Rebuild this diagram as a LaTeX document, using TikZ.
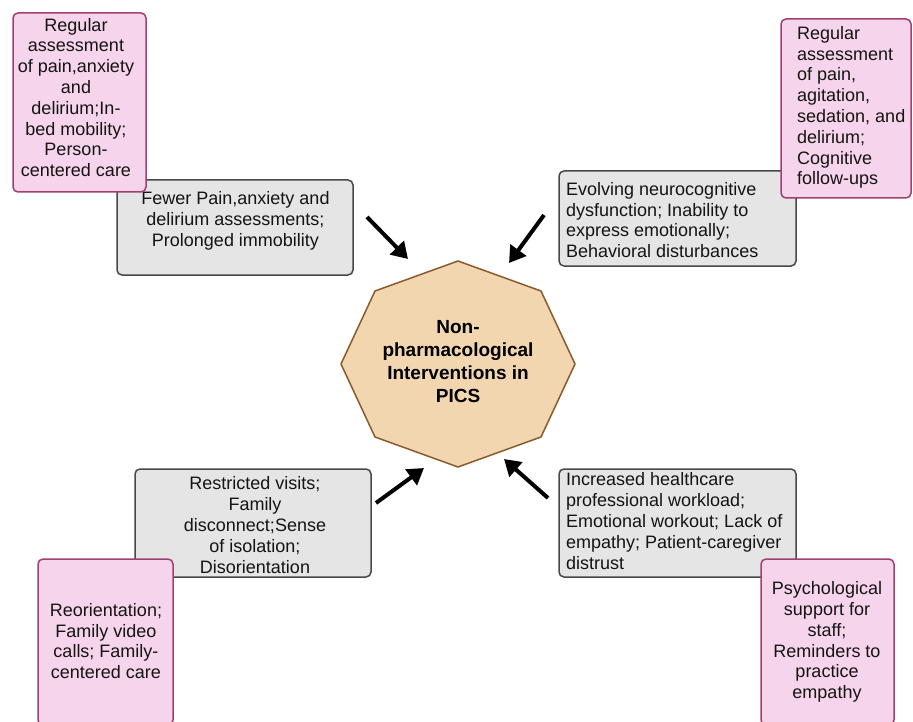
\documentclass[tikz,border=0pt]{standalone}
\usepackage{fontspec}
\setmainfont{Liberation Sans}
\usetikzlibrary{arrows.meta}
\definecolor{pinkfill}{RGB}{246,213,236}
\definecolor{pinkdraw}{RGB}{160,64,112}
\definecolor{grayfill}{RGB}{229,229,229}
\definecolor{graydraw}{RGB}{72,72,72}
\definecolor{tanfill}{RGB}{241,214,176}
\definecolor{browndraw}{RGB}{139,90,43}
\begin{document}
\begin{tikzpicture}[x=1pt,y=-1pt,
  graybox/.style={draw=graydraw,fill=grayfill,line width=1.5pt,rounded corners=5pt,inner sep=0pt},
  pinkbox/.style={draw=pinkdraw,fill=pinkfill,line width=1.5pt,rounded corners=5pt,inner sep=0pt},
  txt/.style={inner sep=0pt,font=\fontsize{18}{20.8}\selectfont,text=black!92},
  ctxt/.style={txt,align=center},
  ltxt/.style={txt,align=left,anchor=west},
  arr/.style={line width=4pt,-{Triangle[length=16pt,width=19pt]}}]
\useasboundingbox (0,0) rectangle (913,722);
% octagon
\draw[fill=tanfill,draw=browndraw,line width=1.5pt]
  (458,261) -- (541,291) -- (575,364) -- (541,437) -- (458,467) -- (375,437) -- (341,364) -- (375,291) -- cycle;
\node (center) [inner sep=0pt,align=center,font=\fontsize{19}{23}\selectfont\bfseries] at (458,361.5)
  {Non-\\pharmacological\\Interventions in\\PICS};
% gray boxes
\node (g1) [graybox,minimum width=236pt,minimum height=95pt] at (235,227.5) {};
\node (g1t) [ctxt] at (235.5,221) {Fewer Pain,anxiety and\\delirium assessments;\\Prolonged immobility};
\node (g2) [graybox,minimum width=237pt,minimum height=95pt] at (677.5,218.5) {};
\node (g2t) [ltxt] at (566,220) {Evolving neurocognitive\\dysfunction; Inability to\\express emotionally;\\Behavioral disturbances};
\node (g3) [graybox,minimum width=236pt,minimum height=108pt] at (253,523) {};
\node (g3t) [ctxt] at (255,525) {Restricted visits;\\Family\\disconnect;Sense\\of isolation;\\Disorientation};
\node (g4) [graybox,minimum width=237pt,minimum height=108pt] at (677.5,523) {};
\node (g4t) [ltxt] at (566,521) {Increased healthcare\\professional workload;\\Emotional workout; Lack of\\empathy; Patient-caregiver\\distrust};
% pink boxes
\node (p1) [pinkbox,minimum width=133pt,minimum height=179pt] at (79.5,102.5) {};
\node (p1t) [ctxt] at (76,97.5) {Regular\\assessment\\of pain,anxiety\\and\\delirium;In-\\bed mobility;\\Person-\\centered care};
\node (p2) [pinkbox,minimum width=130pt,minimum height=179pt] at (846,108.5) {};
\node (p2t) [ltxt] at (797,107.5) {Regular\\assessment\\of pain,\\agitation,\\sedation, and\\delirium;\\Cognitive\\follow-ups};
\node (p3) [pinkbox,minimum width=135pt,minimum height=166pt] at (105.5,642) {};
\node (p3t) [ctxt] at (106,641) {Reorientation;\\Family video\\calls; Family-\\centered care};
\node (p4) [pinkbox,minimum width=133pt,minimum height=166pt] at (827.5,642) {};
\node (p4t) [ctxt] at (827,642) {Psychological\\support for\\staff;\\Reminders to\\practice\\empathy};
% arrows
\coordinate (a1s) at (367,217); \coordinate (a1e) at (408,259);
\coordinate (a2s) at (544,215); \coordinate (a2e) at (509,263);
\coordinate (a3s) at (376,503); \coordinate (a3e) at (424,468);
\coordinate (a4s) at (548,498); \coordinate (a4e) at (504,459);
\draw[arr] (a1s) -- (a1e);
\draw[arr] (a2s) -- (a2e);
\draw[arr] (a3s) -- (a3e);
\draw[arr] (a4s) -- (a4e);
\end{tikzpicture}
\end{document}
